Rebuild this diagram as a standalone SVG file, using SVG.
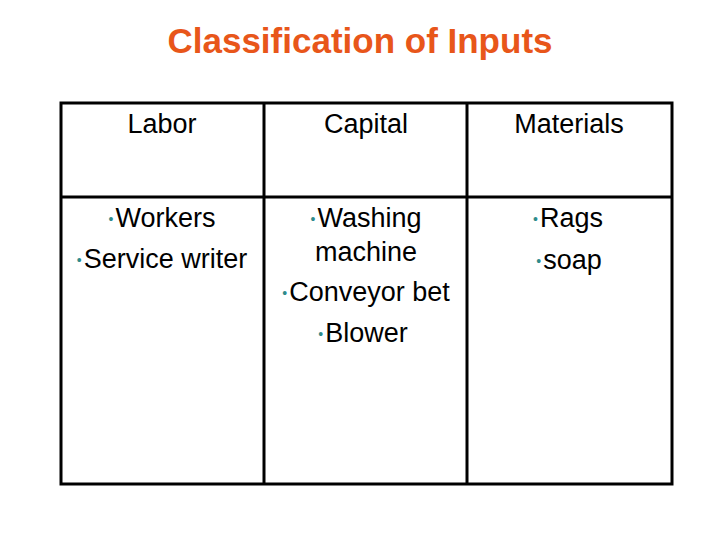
<svg xmlns="http://www.w3.org/2000/svg" width="720" height="540" viewBox="0 0 720 540">
<style>
.t{font-family:"Liberation Sans",Arial,sans-serif;font-size:27px;fill:#000;text-anchor:middle}
.b{fill:#2e8b8b;font-size:14px}
.ln{stroke:#000;stroke-width:3;fill:none}
</style>
<rect width="720" height="540" fill="#fff"/>
<text id="title" x="360" y="53" class="t" style="font-size:35px;font-weight:bold;fill:#e8561a">Classification of Inputs</text>
<g id="table">
<rect class="ln" x="61" y="103" width="611" height="381"/>
<line class="ln" x1="264" y1="103" x2="264" y2="484"/>
<line class="ln" x1="467" y1="103" x2="467" y2="484"/>
<line class="ln" x1="61" y1="197" x2="672" y2="197"/>
</g>
<g id="labor">
<text class="t" x="162" y="133">Labor</text>
<text class="t" x="162" y="227"><tspan class="b" dy="-3">•</tspan><tspan dx="2" dy="3">Workers</tspan></text>
<text class="t" x="162" y="268"><tspan class="b" dy="-3">•</tspan><tspan dx="2" dy="3">Service writer</tspan></text>
</g>
<g id="capital">
<text class="t" x="366" y="133">Capital</text>
<text class="t" x="366" y="227"><tspan class="b" dy="-3">•</tspan><tspan dx="2" dy="3">Washing</tspan></text>
<text class="t" x="366" y="261">machine</text>
<text class="t" x="366" y="301"><tspan class="b" dy="-3">•</tspan><tspan dx="2" dy="3">Conveyor bet</tspan></text>
<text class="t" x="363" y="342"><tspan class="b" dy="-3">•</tspan><tspan dx="2" dy="3">Blower</tspan></text>
</g>
<g id="materials">
<text class="t" x="569" y="133">Materials</text>
<text class="t" x="568" y="227"><tspan class="b" dy="-3">•</tspan><tspan dx="2" dy="3">Rags</tspan></text>
<text class="t" x="569" y="269"><tspan class="b" dy="-3">•</tspan><tspan dx="2" dy="3">soap</tspan></text>
</g>
</svg>
